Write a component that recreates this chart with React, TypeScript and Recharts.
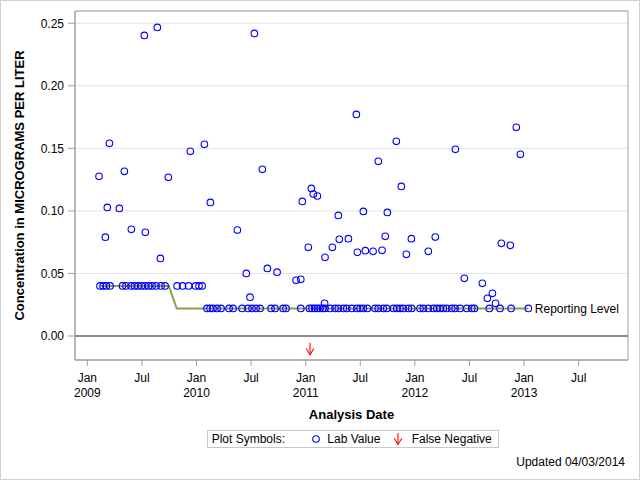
import React from 'react';
import {
  ScatterChart,
  Scatter,
  XAxis,
  YAxis,
  CartesianGrid,
  ReferenceLine,
  ReferenceArea,
  ReferenceDot,
} from 'recharts';

const FONT = '"Liberation Sans", Arial, Helvetica, sans-serif';

// ---- axis ticks ----
const xTickValues = [2009, 2009.5, 2010, 2010.5, 2011, 2011.5, 2012, 2012.5, 2013, 2013.5];
const xTickMonths = ['Jan', 'Jul', 'Jan', 'Jul', 'Jan', 'Jul', 'Jan', 'Jul', 'Jan', 'Jul'];
const xTickYears = ['2009', '', '2010', '', '2011', '', '2012', '', '2013', ''];
const yTickValues = [0, 0.05, 0.1, 0.15, 0.2, 0.25];

// ---- lab values at the 0.04 reporting level (dates as decimal years) ----
const labAt040Dates = [
  2009.116, 2009.144, 2009.174, 2009.208, 2009.322, 2009.354, 2009.4, 2009.432, 2009.464,
  2009.496, 2009.528, 2009.561, 2009.593, 2009.629, 2009.675, 2009.712, 2009.822, 2009.872,
  2009.927, 2009.991, 2010.023, 2010.051,
];
const labAt040Value = 0.04;

// ---- lab values at the 0.022 reporting level ----
const labAt022Dates = [
  2010.096, 2010.124, 2010.151, 2010.188, 2010.225, 2010.298, 2010.335, 2010.417, 2010.472,
  2010.509, 2010.545, 2010.582, 2010.683, 2010.719, 2010.793, 2010.82, 2010.955, 2011.033,
  2011.058, 2011.083, 2011.107, 2011.131, 2011.156, 2011.177, 2011.223, 2011.269, 2011.299,
  2011.345, 2011.376, 2011.422, 2011.468, 2011.498, 2011.528, 2011.565, 2011.635, 2011.665,
  2011.711, 2011.742, 2011.803, 2011.834, 2011.864, 2011.894, 2011.94, 2011.971, 2012.047,
  2012.078, 2012.123, 2012.169, 2012.2, 2012.23, 2012.261, 2012.292, 2012.338, 2012.368,
  2012.414, 2012.475, 2012.521, 2012.545, 2012.682, 2012.78, 2012.881, 2013.039,
];
const labAt022Value = 0.022;

// ---- detected lab values ----
const detectedDates = [
  2009.107, 2009.165, 2009.183, 2009.202, 2009.293, 2009.339, 2009.403, 2009.522, 2009.531,
  2009.641, 2009.669, 2009.742, 2009.943, 2010.072, 2010.127, 2010.374, 2010.456, 2010.49,
  2010.53, 2010.603, 2010.649, 2010.738, 2010.912, 2010.955, 2010.969, 2011.024, 2011.052,
  2011.07, 2011.107, 2011.173, 2011.177, 2011.244, 2011.299, 2011.308, 2011.391, 2011.464,
  2011.473, 2011.528, 2011.546, 2011.617, 2011.665, 2011.699, 2011.729, 2011.748, 2011.83,
  2011.876, 2011.922, 2011.968, 2012.123, 2012.187, 2012.371, 2012.453, 2012.618, 2012.664,
  2012.71, 2012.739, 2012.792, 2012.874, 2012.929, 2012.966,
];
const detectedValues = [
  0.1276, 0.079, 0.1028, 0.154, 0.102, 0.1316, 0.0853, 0.2403, 0.0829,
  0.2467, 0.062, 0.1268, 0.1476, 0.1532, 0.1068, 0.0847, 0.05, 0.031,
  0.2419, 0.1332, 0.054, 0.051, 0.0445, 0.0453, 0.1076, 0.0709, 0.118,
  0.1135, 0.1119, 0.0261, 0.0629, 0.0709, 0.0964, 0.0773, 0.0778, 0.1771,
  0.0669, 0.0996, 0.0682, 0.0677, 0.1396, 0.0685, 0.0797, 0.0988, 0.1556,
  0.1196, 0.0653, 0.0778, 0.0677, 0.0791, 0.1492, 0.0461, 0.0421, 0.0301,
  0.0341, 0.0261, 0.0741, 0.0725, 0.1668, 0.1452,
];

// ---- reporting level line ----
const reportingDates = [2009.116, 2009.746, 2009.819, 2013.039];
const reportingValues = [0.04, 0.04, 0.022, 0.022];

// ---- false negatives ----
const falseNegDates = [2011.04];
const falseNegValues = [-0.0102];

const X_DOMAIN: [number, number] = [2008.887, 2013.952];
const Y_DOMAIN: [number, number] = [-0.0192, 0.2598];

const labData = [
  ...labAt040Dates.map((d) => ({ x: d, y: labAt040Value })),
  ...labAt022Dates.map((d) => ({ x: d, y: labAt022Value })),
  ...detectedDates.map((d, i) => ({ x: d, y: detectedValues[i] })),
];
const reportingData = reportingDates.map((d, i) => ({ x: d, y: reportingValues[i] }));
const falseNegData = falseNegDates.map((d, i) => ({ x: d, y: falseNegValues[i] }));

const BLUE = '#0000FF';
const GREEN = '#8BA147';
const RED = '#FF0000';
const FRAME = '#A0A0A0';

const CircleShape = (p: any) => (
  <circle cx={p.cx} cy={p.cy} r={3.3} fill="none" stroke={BLUE} strokeWidth={1.1} />
);
const NoShape = () => <g />;
const ArrowShape = (p: any) => (
  <g stroke={RED} strokeWidth={1.1} fill="none">
    <line x1={p.cx} y1={p.cy - 6} x2={p.cx} y2={p.cy + 6.2} />
    <polyline points={`${p.cx - 3.7},${p.cy - 0.3} ${p.cx},${p.cy + 6.2} ${p.cx + 3.7},${p.cy - 0.3}`} />
  </g>
);

const XTick = (props: any) => {
  const { x, y, payload } = props;
  const i = xTickValues.indexOf(payload.value);
  return (
    <g>
      <text x={x} y={y + 14} textAnchor="middle" fontSize={12} fill="#000" fontFamily={FONT}>
        {xTickMonths[i]}
      </text>
      {xTickYears[i] ? (
        <text x={x} y={y + 29} textAnchor="middle" fontSize={12} fill="#000" fontFamily={FONT}>
          {xTickYears[i]}
        </text>
      ) : null}
    </g>
  );
};

const YLabel = (p: any) => {
  const vb = p.viewBox || { x: 0, y: 11, width: 75, height: 349 };
  const cx = vb.x + 19;
  const cy = vb.y + vb.height / 2;
  return (
    <text
      x={cx}
      y={cy}
      transform={`rotate(-90 ${cx} ${cy})`}
      textAnchor="middle"
      dominantBaseline="central"
      fontWeight="bold"
      fontSize={13}
      fill="#000"
      fontFamily={FONT}
    >
      Concentration in MICROGRAMS PER LITER
    </text>
  );
};

const XLabel = (p: any) => {
  const vb = p.viewBox || { x: 75, y: 360, width: 553, height: 70 };
  return (
    <text
      x={vb.x + vb.width / 2}
      y={vb.y + 54}
      textAnchor="middle"
      dominantBaseline="central"
      fontWeight="bold"
      fontSize={13}
      fill="#000"
      fontFamily={FONT}
    >
      Analysis Date
    </text>
  );
};

export default function App() {
  return (
    <div
      style={{
        position: 'absolute',
        left: 0,
        top: 0,
        width: 640,
        height: 480,
        fontFamily: FONT,
        background: '#fff',
      }}
    >
      <ScatterChart width={640} height={480} margin={{ top: 11, right: 12, bottom: 50, left: 0 }}>
        <CartesianGrid horizontal vertical={false} stroke="#E4E4E4" />
        <XAxis
          type="number"
          dataKey="x"
          domain={X_DOMAIN}
          ticks={xTickValues}
          allowDataOverflow
          height={70}
          tickSize={6}
          tickLine={{ stroke: FRAME }}
          axisLine={{ stroke: FRAME }}
          tick={<XTick />}
          interval={0}
          label={{ content: XLabel } as any}
        />
        <YAxis
          type="number"
          dataKey="y"
          domain={Y_DOMAIN}
          ticks={yTickValues}
          allowDataOverflow
          width={75}
          tickSize={7}
          tickMargin={4}
          interval={0}
          tickLine={{ stroke: FRAME }}
          axisLine={{ stroke: FRAME }}
          tick={{ fill: '#000', fontSize: 12, fontFamily: FONT }}
          tickFormatter={(v: number) => v.toFixed(2)}
          label={{ content: YLabel } as any}
        />
        <ReferenceLine y={0} stroke="#8C8C8C" strokeWidth={2} />
        <Scatter
          name="Reporting Level"
          data={reportingData}
          line={{ stroke: GREEN, strokeWidth: 2 }}
          lineType="joint"
          shape={NoShape}
          isAnimationActive={false}
        />
        <Scatter name="Lab Value" data={labData} shape={CircleShape} isAnimationActive={false} />
        <Scatter name="False Negative" data={falseNegData} shape={ArrowShape} isAnimationActive={false} />
        <ReferenceDot
          x={reportingDates[reportingDates.length - 1]}
          y={reportingValues[reportingValues.length - 1]}
          r={0}
          fill="none"
          stroke="none"
          label={{ value: 'Reporting Level', position: 'right', offset: 6.5, fill: '#000', fontSize: 12, fontFamily: FONT }}
        />
        <ReferenceArea
          x1={X_DOMAIN[0]}
          x2={X_DOMAIN[1]}
          y1={Y_DOMAIN[0]}
          y2={Y_DOMAIN[1]}
          fill="none"
          fillOpacity={0}
          stroke={FRAME}
          strokeWidth={1}
        />
      </ScatterChart>

      {/* legend */}
      <div
        style={{
          position: 'absolute',
          left: 207,
          top: 430,
          width: 292,
          height: 18,
          border: '1px solid #C8C8C8',
          boxSizing: 'border-box',
          fontSize: 12,
          lineHeight: '16px',
          color: '#000',
          whiteSpace: 'nowrap',
        }}
      >
        <span style={{ position: 'absolute', left: 3.7, top: 0 }}>Plot Symbols:</span>
        <svg style={{ position: 'absolute', left: 103, top: 3 }} width={10} height={10}>
          <circle cx={5} cy={5} r={3.3} fill="none" stroke={BLUE} strokeWidth={1.1} />
        </svg>
        <span style={{ position: 'absolute', left: 119.3, top: 0 }}>Lab Value</span>
        <svg style={{ position: 'absolute', left: 185, top: 1 }} width={10} height={14}>
          <g stroke={RED} strokeWidth={1.1} fill="none">
            <line x1={5} y1={1} x2={5} y2={12.5} />
            <polyline points="1.3,6.5 5,12.5 8.7,6.5" />
          </g>
        </svg>
        <span style={{ position: 'absolute', left: 203.7, top: 0 }}>False Negative</span>
      </div>

      <div
        style={{
          position: 'absolute',
          right: 15,
          top: 454,
          fontSize: 12,
          lineHeight: '16px',
          color: '#000',
          whiteSpace: 'nowrap',
        }}
      >
        Updated 04/03/2014
      </div>

      {/* outer frame */}
      <div
        style={{
          position: 'absolute',
          left: 0,
          top: 0,
          width: 640,
          height: 480,
          border: '1px solid #D0D0D0',
          boxSizing: 'border-box',
          pointerEvents: 'none',
        }}
      />
    </div>
  );
}
